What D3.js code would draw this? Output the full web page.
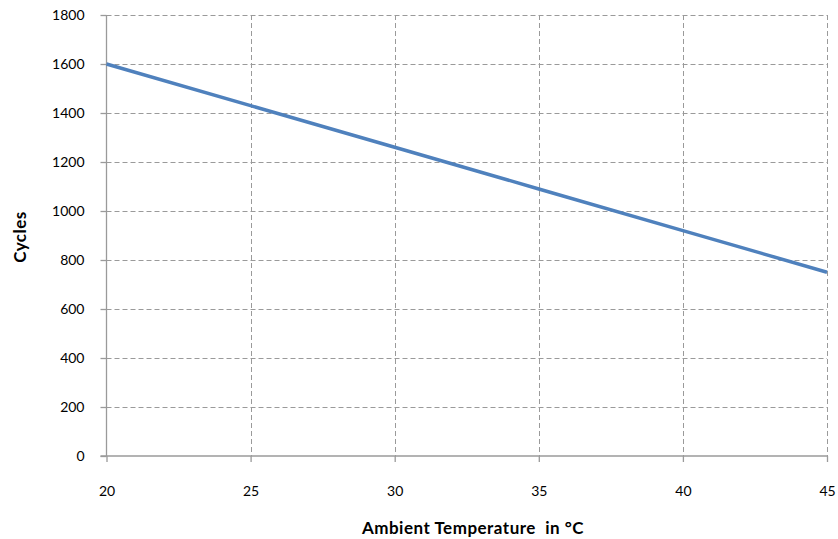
<!DOCTYPE html>
<html><head><meta charset="utf-8">
<script src="https://cdn.jsdelivr.net/npm/d3@7"></script>
<style>body{margin:0;background:#fff;} text{font-family:Lato,"Open Sans",sans-serif;}</style>
</head><body>
<svg id="c" width="838" height="539"></svg>
<script>
const temps = [20, 25, 30, 35, 40, 45];
const cycles = [1600, 1430, 1260, 1090, 920, 750];
const xTicks = [20, 25, 30, 35, 40, 45];
const yTicks = [0, 200, 400, 600, 800, 1000, 1200, 1400, 1600, 1800];

const svg = d3.select("#c");
const L = 106.5, R = 827, T = 15, B = 456;
const x = d3.scaleLinear().domain([20, 45]).range([L, R]);
const y = d3.scaleLinear().domain([0, 1800]).range([B, T]);
const grid = "#9a9a9a";

svg.append("g").selectAll("line").data(yTicks.filter(d => d > 0)).join("line")
  .attr("x1", L).attr("x2", R).attr("y1", d => Math.round(y(d)) + 0.5).attr("y2", d => Math.round(y(d)) + 0.5)
  .attr("stroke", grid).attr("stroke-dasharray", "5,3").attr("stroke-width", 1);
svg.append("g").selectAll("line").data(xTicks.filter(d => d > 20)).join("line")
  .attr("x1", d => Math.round(x(d)) + 0.5).attr("x2", d => Math.round(x(d)) + 0.5).attr("y1", T).attr("y2", B)
  .attr("stroke", grid).attr("stroke-dasharray", "5,3").attr("stroke-width", 1);

const yAxis = d3.axisLeft(y).tickValues(yTicks).tickSize(6).tickPadding(16).tickFormat(d3.format("d"));
const xAxis = d3.axisBottom(x).tickValues(xTicks).tickSize(6).tickPadding(24).tickFormat(d3.format("d"));
const gy = svg.append("g").attr("transform", `translate(${L},0)`).call(yAxis);
const gx = svg.append("g").attr("transform", `translate(0,${B})`).call(xAxis);
[gx, gy].forEach(g => {
  g.selectAll("path,line").attr("stroke", grid).attr("stroke-width", 1.3);
  g.selectAll("text").attr("font-size", 14).attr("fill", "#000");
  g.select(".domain").attr("d", g === gx ? `M${L - 6},0H${R}` : `M0,${B}V${T}`);
});

svg.append("path").datum(temps.map((t, i) => [t, cycles[i]]))
  .attr("d", d3.line().x(d => x(d[0])).y(d => y(d[1])))
  .attr("fill", "none").attr("stroke", "#4f81bd").attr("stroke-width", 3.5);

svg.append("text").attr("x", 473).attr("y", 534).attr("text-anchor", "middle")
  .attr("font-size", 17).attr("font-weight", "bold").attr("letter-spacing", 0.5).style("white-space", "pre")
  .text("Ambient Temperature  in °C");
svg.append("text").attr("transform", "translate(26,237) rotate(-90)").attr("text-anchor", "middle")
  .attr("font-size", 17).attr("font-weight", "bold").attr("letter-spacing", 0.5).text("Cycles");
</script>
</body></html>
